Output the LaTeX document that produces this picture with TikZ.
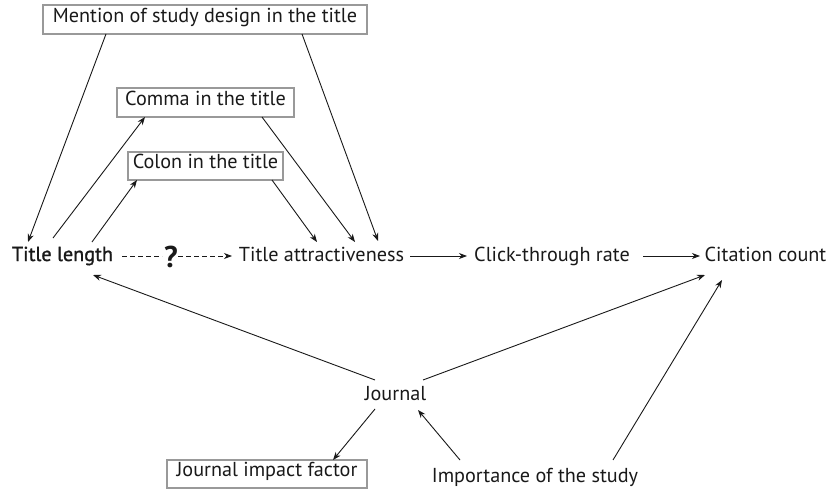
\documentclass[tikz,border=0pt]{standalone}
\usepackage{fontspec}
\setmainfont{PT Sans}
\newfontfamily\semibfont[FakeBold=1.3]{PT Sans}
\usetikzlibrary{arrows.meta,calc}
\begin{document}
\begin{tikzpicture}[x=1pt,y=-1pt,
  every node/.style={font=\fontsize{20.2}{24}\selectfont, text=black!90},
  lbl/.style={inner sep=0pt, anchor=base},
  boxed/.style={draw=black!40, line width=1.1pt, inner sep=0pt, text height=0.78em, text depth=0.22em},
  arr/.style={-{Stealth[length=8pt,width=6pt,inset=2.5pt]}, line width=0.9pt, black!90},
  dsh/.style={line width=0.9pt, black!90, dash pattern=on 5pt off 3pt}
]
\useasboundingbox (0,0) rectangle (832,492);
% boxed nodes
\node[boxed, minimum width=324pt, minimum height=29pt] (ment) at (205,19.5) {Mention of study design in the title};
\node[boxed, minimum width=177pt, minimum height=29pt] (comma) at (205.5,102.5) {Comma in the title};
\node[boxed, minimum width=155pt, minimum height=28pt] (colon) at (205.5,166) {Colon in the title};
\node[boxed, minimum width=200pt, minimum height=28pt] (jif) at (267,474) {Journal impact factor};
% text nodes
\node[lbl, font=\fontsize{20.2}{24}\semibfont] (tl) at (62.5,261) {Title length};
\node[lbl] (ta) at (321.5,261) {Title attractiveness};
\node[lbl] (ctr) at (552,261) {Click-through rate};
\node[lbl] (cc) at (765.5,261) {Citation count};
\node[lbl] (jour) at (395.5,400) {Journal};
\node[lbl] (imp) at (535,482) {Importance of the study};
\node[lbl, font=\fontsize{30}{32}\selectfont\bfseries] (q) at (171,267) {?};
% connectors
\draw[arr] ($(ment.center)+(-99,14.5)$) -- ($(tl.base)+(-34.5,-19)$);
\draw[arr] ($(ment.center)+(97,14.5)$) -- ($(ta.base)+(56.5,-20)$);
\draw[arr] ($(tl.base)+(-9.5,-23)$) -- ($(comma.center)+(-60.5,14.5)$);
\draw[arr] ($(tl.base)+(29.5,-19)$) -- ($(colon.center)+(-68.5,14)$);
\draw[arr] ($(comma.center)+(56.5,14.5)$) -- ($(ta.base)+(33.5,-19)$);
\draw[arr] ($(colon.center)+(66.5,14)$) -- ($(ta.base)+(-4.5,-19)$);
\draw[dsh] ($(tl.base)+(59.5,-5)$) -- ($(q.base)+(-9,-11)$);
\draw[dsh,-{Stealth[length=8pt,width=6pt,inset=2.5pt]}] ($(q.base)+(7,-11)$) -- ($(ta.base)+(-89.5,-5)$);
\draw[arr] ($(ta.base)+(88.5,-5)$) -- ($(ctr.base)+(-85,-5)$);
\draw[arr] ($(ctr.base)+(91,-5)$) -- ($(cc.base)+(-65.5,-5)$);
\draw[arr] ($(jour.base)+(-20.5,-20)$) -- ($(tl.base)+(30.5,14)$);
\draw[arr] ($(jour.base)+(27.5,-20)$) -- ($(cc.base)+(-60.5,14)$);
\draw[arr] ($(jour.base)+(-20.5,9)$) -- ($(jif.center)+(66,-14)$);
\draw[arr] ($(imp.base)+(-75,-22)$) -- ($(jour.base)+(22.5,10)$);
\draw[arr] ($(imp.base)+(78,-22)$) -- ($(cc.base)+(-43.5,19)$);
\end{tikzpicture}
\end{document}
